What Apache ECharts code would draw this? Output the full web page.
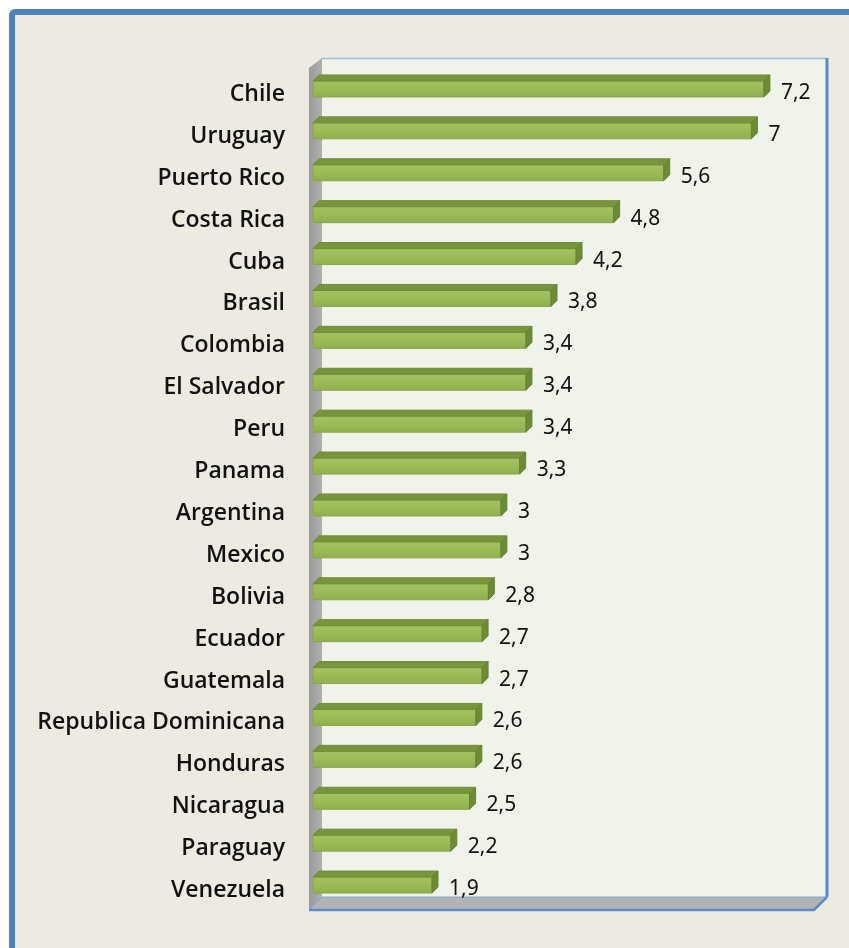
<!DOCTYPE html>
<html>
<head>
<meta charset="utf-8">
<script src="https://cdn.jsdelivr.net/npm/echarts@6/dist/echarts.min.js"></script>
<style>
html,body{margin:0;padding:0;background:#fff;}
#chart{width:849px;height:948px;}
</style>
</head>
<body>
<div id="chart"></div>
<script>
const countries = ["Chile","Uruguay","Puerto Rico","Costa Rica","Cuba","Brasil","Colombia","El Salvador","Peru","Panama","Argentina","Mexico","Bolivia","Ecuador","Guatemala","Republica Dominicana","Honduras","Nicaragua","Paraguay","Venezuela"];
const values = [7.2,7,5.6,4.8,4.2,3.8,3.4,3.4,3.4,3.3,3,3,2.8,2.7,2.7,2.6,2.6,2.5,2.2,1.9];
const axisMin = 0;
const axisMax = 8;

const GRID = {left: 313, right: 35, top: 65, bottom: 45};
const W = 849, H = 948;
const fx0 = GRID.left - 4, fx1 = W - GRID.right, fy1 = 910;
const D = 13;
const backTop = 58;

const chart = echarts.init(document.getElementById('chart'), null, {renderer: 'canvas'});

function fmt(v){ return String(v).replace('.', ','); }

const option = {
  backgroundColor: '#ffffff',
  animation: false,
  graphic: [
    {type: 'rect', z: -10, shape: {x: 12, y: 12, width: 900, height: 1000, r: 3},
     style: {fill: '#EDEBE1', stroke: '#4F81BD', lineWidth: 6}},
    {type: 'rect', z: -9, shape: {x: fx0 + D, y: backTop, width: fx1 - fx0, height: fy1 - D - backTop},
     style: {fill: '#EFF3EA', stroke: null}},
    {type: 'line', z: -8, shape: {x1: fx0 + D, y1: backTop + 0.5, x2: fx1 + D, y2: backTop + 0.5},
     style: {stroke: '#9DBDE4', lineWidth: 1.5}},
    {type: 'line', z: -8, shape: {x1: fx1 + D, y1: backTop, x2: fx1 + D, y2: fy1 - D},
     style: {stroke: '#5B8BCB', lineWidth: 3}},
    {type: 'polygon', z: -8, shape: {points: [[fx0, backTop + 10], [fx0 + D, backTop], [fx0 + D, fy1 - D], [fx0, fy1]]},
     style: {fill: new echarts.graphic.LinearGradient(0,0,1,0,[{offset:0,color:'#9A9A9A'},{offset:1,color:'#B0B0B0'}])}},
    {type: 'polygon', z: -8, shape: {points: [[fx0, fy1], [fx0 + D, fy1 - D], [fx1 + D, fy1 - D], [fx1, fy1]]},
     style: {fill: '#B3B3B3', stroke: '#7FA6D8', lineWidth: 1}},
    {type: 'polyline', z: -7, shape: {points: [[fx0, fy1], [fx1, fy1], [fx1 + D, fy1 - D]]},
     style: {stroke: '#5B8BCB', lineWidth: 2.5, fill: null}}
  ],
  grid: {left: GRID.left, right: GRID.right, top: GRID.top, bottom: GRID.bottom, containLabel: false},
  xAxis: {
    type: 'value', min: axisMin, max: axisMax, show: false,
    splitLine: {show: false}
  },
  yAxis: {
    type: 'category', data: countries, inverse: true,
    axisLine: {show: false}, axisTick: {show: false}, splitLine: {show: false},
    axisLabel: {
      margin: 28, color: '#111', fontFamily: 'Open Sans', fontWeight: 600, fontSize: 23,
      verticalAlign: 'top', lineHeight: 17
    }
  },
  series: [{
    type: 'custom',
    z: 10,
    data: values.map((v, i) => [v, i]),
    encode: {x: 0, y: 1},
    renderItem: function(params, api){
      const v = api.value(0);
      const cat = api.value(1);
      const p0 = api.coord([0, cat]);
      const p1 = api.coord([v, cat]);
      const x0 = p0[0], x1 = p1[0], c = p0[1];
      const d = 6;
      return {
        type: 'group',
        children: [
          {type: 'rect', shape: {x: x0, y: c - 5, width: x1 - x0, height: 16},
           style: {fill: new echarts.graphic.LinearGradient(0,0,0,1,[{offset:0,color:'#A3C262'},{offset:0.5,color:'#9BBB59'},{offset:1,color:'#8FAF4E'}]),
                   stroke: '#86A64A', lineWidth: 1}},
          {type: 'polygon', shape: {points: [[x0, c - 5], [x0 + d, c - 11], [x1 + d, c - 11], [x1, c - 5]]},
           style: {fill: '#77953C', stroke: '#6F8D37', lineWidth: 1}},
          {type: 'polygon', shape: {points: [[x1, c - 5], [x1 + d, c - 11], [x1 + d, c + 5], [x1, c + 11]]},
           style: {fill: '#6D8B35', stroke: '#66832F', lineWidth: 1}},
          {type: 'text', style: {x: x1 + d + 11, y: c + 7, text: fmt(v), fill: '#111',
            font: '21px "Noto Sans"', verticalAlign: 'middle', align: 'left'}}
        ]
      };
    }
  }]
};
chart.setOption(option);
</script>
</body>
</html>
